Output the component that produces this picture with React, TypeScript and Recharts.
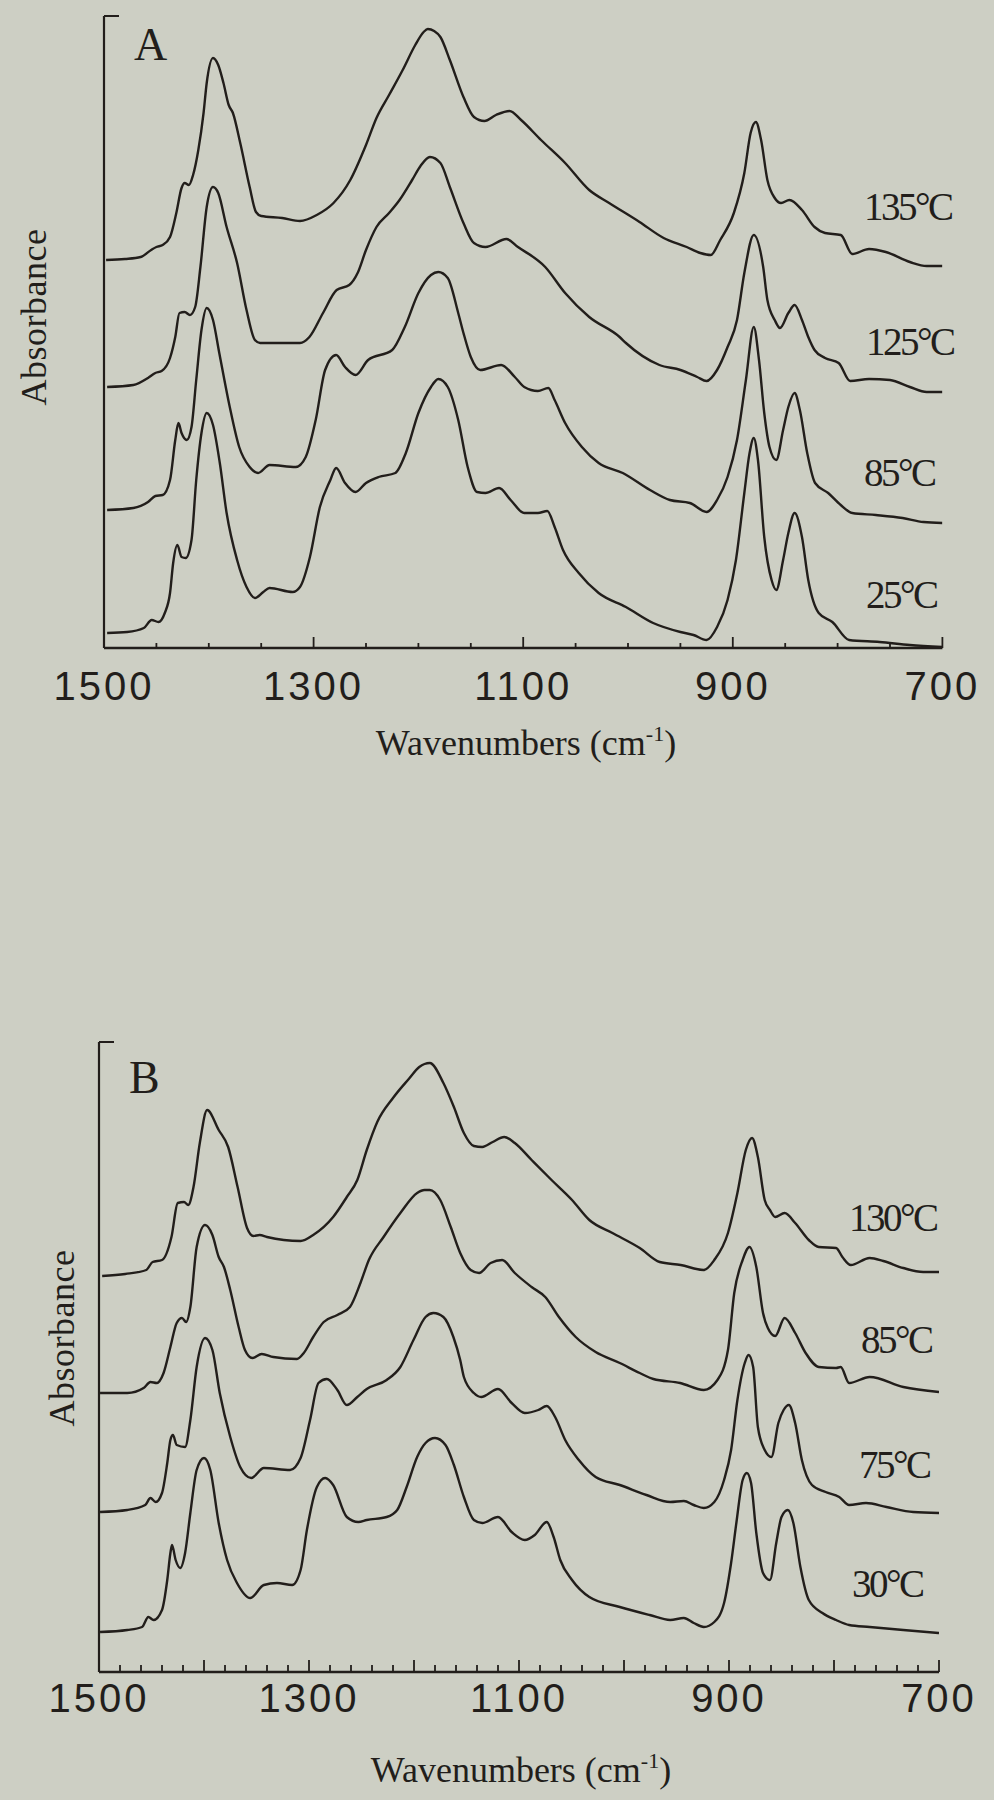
import React from 'react';
import { LineChart, Line, XAxis, YAxis, Customized } from 'recharts';

const INK = '#221e1b';
const PAPER = '#cdcfc4';
const SERIF = '"Liberation Serif", "Times New Roman", serif';
const SANS = '"Liberation Sans", Arial, sans-serif';

// wavenumber (cm-1), absorbance (offset, a.u.)
// Panel A
const a135: [number, number][] = [
  [1498, 3.88], [1480, 3.89], [1465, 3.91], [1455, 3.98], [1450, 4.01], [1444, 4.03], [1437, 4.11],
  [1431, 4.35], [1426, 4.6], [1423, 4.65], [1419, 4.63], [1415, 4.73], [1410, 4.98], [1405, 5.35],
  [1402, 5.65], [1396, 5.9], [1391, 5.83], [1386, 5.65], [1381, 5.43], [1377, 5.35], [1370, 5.05],
  [1361, 4.61], [1355, 4.36], [1350, 4.32], [1330, 4.3], [1313, 4.27], [1297, 4.33], [1281, 4.45],
  [1265, 4.68], [1250, 5.03], [1240, 5.3], [1228, 5.53], [1215, 5.78], [1203, 6.03], [1195, 6.16],
  [1191, 6.19], [1185, 6.17], [1179, 6.11], [1170, 5.88], [1157, 5.51], [1147, 5.31], [1137, 5.27],
  [1126, 5.33], [1113, 5.37], [1102, 5.28], [1083, 5.08], [1060, 4.85], [1037, 4.58], [1018, 4.45],
  [989, 4.26], [966, 4.1], [944, 4.01], [931, 3.95], [921, 3.93], [912, 4.08], [899, 4.35],
  [889, 4.75], [883, 5.15], [878, 5.26], [873, 5.08], [867, 4.68], [860, 4.5], [854, 4.45],
  [846, 4.48], [834, 4.38], [822, 4.21], [812, 4.15], [797, 4.13], [786, 3.94], [770, 3.99],
  [754, 3.96], [731, 3.86], [715, 3.82], [700, 3.82],
];
const a125: [number, number][] = [
  [1497, 2.61], [1472, 2.63], [1458, 2.7], [1451, 2.75], [1445, 2.77], [1437, 2.9], [1432, 3.11],
  [1428, 3.35], [1423, 3.36], [1418, 3.33], [1413, 3.41], [1408, 3.81], [1402, 4.41], [1396, 4.61],
  [1391, 4.55], [1383, 4.21], [1373, 3.85], [1364, 3.38], [1356, 3.08], [1351, 3.05], [1313, 3.05],
  [1304, 3.11], [1291, 3.35], [1278, 3.58], [1266, 3.63], [1258, 3.75], [1250, 3.98], [1240, 4.21],
  [1228, 4.35], [1218, 4.48], [1206, 4.68], [1198, 4.82], [1189, 4.91], [1179, 4.85], [1170, 4.61],
  [1157, 4.25], [1147, 4.05], [1136, 4.01], [1116, 4.09], [1105, 4.01], [1079, 3.81], [1060, 3.55],
  [1037, 3.31], [1008, 3.11], [1002, 3.05], [970, 2.83], [950, 2.78], [934, 2.71], [925, 2.67],
  [915, 2.78], [905, 3.01], [896, 3.28], [889, 3.75], [880, 4.13], [871, 3.81], [867, 3.48],
  [860, 3.28], [855, 3.2], [847, 3.35], [841, 3.43], [834, 3.28], [828, 3.11], [822, 2.98],
  [812, 2.9], [799, 2.85], [788, 2.67], [770, 2.69], [750, 2.68], [731, 2.61], [715, 2.56], [700, 2.56],
];
const a85: [number, number][] = [
  [1497, 1.38], [1472, 1.4], [1458, 1.46], [1451, 1.52], [1444, 1.53], [1437, 1.68], [1432, 2.08],
  [1429, 2.25], [1426, 2.15], [1421, 2.08], [1416.5, 2.21], [1412, 2.68], [1407, 3.18], [1402, 3.4],
  [1396, 3.28], [1390, 2.95], [1380, 2.41], [1371, 2.01], [1361, 1.81], [1353, 1.75], [1342, 1.83],
  [1317, 1.81], [1307.5, 1.91], [1298, 2.28], [1289, 2.78], [1278.5, 2.93], [1270, 2.81], [1260, 2.73],
  [1248, 2.88], [1225, 2.98], [1213, 3.21], [1200, 3.55], [1188, 3.73], [1181, 3.76], [1172, 3.7],
  [1162, 3.35], [1157, 3.15], [1150, 2.91], [1141, 2.78], [1121, 2.83], [1108, 2.71], [1099, 2.61],
  [1086, 2.57], [1076, 2.6], [1070, 2.48], [1060, 2.25], [1044, 2.01], [1028, 1.85], [1005, 1.75],
  [979, 1.58], [960, 1.48], [941, 1.45], [925, 1.36], [915, 1.48], [905, 1.71], [896, 2.08],
  [887.5, 2.68], [880, 3.21], [875, 2.88], [870, 2.35], [865, 2.01], [858.5, 1.88], [852, 2.18],
  [847, 2.41], [841, 2.55], [836, 2.38], [829, 1.95], [821.5, 1.65], [809, 1.55], [797, 1.43],
  [786, 1.35], [763.5, 1.33], [738, 1.3], [718, 1.26], [700, 1.25],
];
const a25: [number, number][] = [
  [1497, 0.15], [1478, 0.16], [1462, 0.2], [1454.5, 0.28], [1448, 0.26], [1442, 0.35], [1437, 0.55],
  [1434, 0.85], [1430, 1.03], [1426, 0.91], [1422, 0.9], [1416.5, 1.08], [1412, 1.68], [1407, 2.15],
  [1402, 2.35], [1396, 2.23], [1389.5, 1.85], [1383, 1.35], [1373, 0.88], [1364, 0.61], [1356, 0.5],
  [1348, 0.56], [1342, 0.6], [1320, 0.56], [1313, 0.61], [1303.5, 0.91], [1294, 1.41], [1284, 1.68],
  [1278.5, 1.8], [1270, 1.65], [1260, 1.56], [1250, 1.65], [1238, 1.71], [1222, 1.75], [1212, 1.95],
  [1200, 2.35], [1188, 2.61], [1181, 2.69], [1172, 2.61], [1162, 2.28], [1153, 1.81], [1144, 1.56],
  [1136, 1.55], [1123, 1.6], [1112, 1.48], [1099, 1.35], [1086, 1.35], [1077, 1.37], [1070, 1.21],
  [1062, 0.98], [1047, 0.75], [1028, 0.55], [1002, 0.41], [976, 0.25], [950, 0.16], [937.5, 0.13],
  [925, 0.08], [915, 0.21], [905, 0.48], [897, 0.88], [889, 1.55], [884, 1.95], [880, 2.1],
  [876, 1.88], [870, 1.11], [863, 0.68], [858.5, 0.58], [852, 0.88], [847, 1.15], [841, 1.35],
  [834, 1.11], [828, 0.68], [818, 0.35], [805, 0.26], [789, 0.08], [760, 0.06], [731, 0.03], [700, 0.01],
];

// Panel B
const b130: [number, number][] = [
  [1497, 3.96], [1475, 3.98], [1455, 4.02], [1449, 4.1], [1440, 4.12], [1431, 4.35], [1425, 4.69],
  [1419, 4.7], [1415, 4.67], [1410, 4.85], [1404, 5.29], [1397, 5.62], [1386, 5.42], [1377, 5.25],
  [1368, 4.85], [1359, 4.44], [1353, 4.36], [1347, 4.37], [1340, 4.35], [1308, 4.31], [1296, 4.37],
  [1277, 4.55], [1264, 4.75], [1254, 4.92], [1245, 5.22], [1235, 5.5], [1220, 5.74], [1205, 5.93],
  [1195, 6.05], [1190, 6.08], [1185, 6.09], [1172, 5.89], [1162, 5.65], [1152.5, 5.39], [1143, 5.26],
  [1135, 5.25], [1125, 5.3], [1114, 5.35], [1104, 5.29], [1088, 5.12], [1069, 4.92], [1049.5, 4.72],
  [1033, 4.52], [1011, 4.39], [985, 4.24], [966, 4.1], [946, 4.07], [924, 4.02], [914, 4.12],
  [901, 4.39], [892, 4.79], [884, 5.22], [878, 5.34], [872.5, 5.15], [866, 4.72], [861, 4.62],
  [856, 4.55], [847, 4.59], [837, 4.49], [824, 4.32], [814.5, 4.25], [798, 4.24], [792, 4.15],
  [784, 4.07], [766, 4.14], [753, 4.11], [734, 4.04], [715, 4.0], [700, 4.0],
];
const b85: [number, number][] = [
  [1499, 2.79], [1473, 2.79], [1457.5, 2.84], [1451, 2.9], [1445, 2.89], [1438.5, 2.99], [1432, 3.25],
  [1426, 3.49], [1421, 3.54], [1417, 3.5], [1413, 3.65], [1407, 4.25], [1399, 4.47], [1392, 4.37],
  [1386, 4.15], [1381, 4.05], [1375, 3.82], [1367, 3.45], [1361, 3.22], [1354, 3.14], [1345, 3.18],
  [1334, 3.15], [1311.5, 3.13], [1305, 3.19], [1296, 3.35], [1286, 3.5], [1273, 3.57], [1261, 3.65],
  [1251, 3.89], [1243, 4.12], [1229, 4.35], [1213, 4.59], [1197, 4.79], [1190, 4.82], [1185, 4.82],
  [1175, 4.72], [1165, 4.45], [1156, 4.19], [1146, 4.02], [1138, 3.99], [1127, 4.09], [1116, 4.12],
  [1104, 3.99], [1088, 3.85], [1075, 3.75], [1062, 3.55], [1046, 3.35], [1027, 3.2], [1004, 3.09],
  [985, 2.99], [972, 2.93], [946.5, 2.89], [924, 2.82], [911, 2.92], [901, 3.22], [895, 3.79],
  [887, 4.12], [880.5, 4.25], [874, 4.05], [867.6, 3.59], [863, 3.44], [856, 3.36], [847, 3.54],
  [837, 3.39], [827, 3.19], [814.5, 3.05], [798, 3.04], [793.6, 3.05], [785.6, 2.89], [766, 2.95],
  [734, 2.85], [700, 2.8],
];
const b75: [number, number][] = [
  [1499, 1.6], [1473, 1.62], [1456, 1.67], [1451, 1.74], [1446, 1.7], [1440, 1.79], [1435, 2.09],
  [1432, 2.32], [1429.6, 2.37], [1426, 2.27], [1418, 2.25], [1413, 2.52], [1407, 3.05], [1399, 3.34],
  [1392, 3.22], [1385, 2.79], [1375, 2.35], [1365.5, 2.05], [1355, 1.94], [1343, 2.04], [1318, 2.02],
  [1308, 2.14], [1299, 2.52], [1291, 2.89], [1283, 2.93], [1273, 2.82], [1264, 2.67], [1254, 2.75],
  [1245, 2.83], [1226, 2.92], [1213, 3.05], [1200.5, 3.32], [1189, 3.55], [1181.5, 3.59], [1172, 3.55],
  [1162.5, 3.35], [1156, 3.12], [1152.5, 2.95], [1143, 2.79], [1136, 2.75], [1120, 2.83], [1107, 2.69],
  [1094.5, 2.59], [1081.6, 2.62], [1073.6, 2.66], [1065.6, 2.55], [1056, 2.32], [1043, 2.12],
  [1027, 1.95], [1004, 1.87], [978.6, 1.77], [956, 1.7], [943, 1.71], [933.6, 1.67], [924, 1.64],
  [914, 1.7], [904.7, 1.92], [898, 2.22], [892, 2.72], [885, 3.09], [881.4, 3.17], [877, 3.05],
  [872.5, 2.45], [866, 2.22], [859.6, 2.15], [853, 2.49], [848, 2.62], [843, 2.67], [837, 2.49],
  [830.6, 2.12], [821, 1.87], [808, 1.8], [795, 1.75], [785.6, 1.67], [769.5, 1.69], [750, 1.65],
  [724.5, 1.6], [700, 1.59],
];
const b30: [number, number][] = [
  [1499, 0.4], [1473, 0.42], [1459, 0.45], [1453, 0.55], [1448, 0.52], [1440, 0.62], [1435, 0.92],
  [1432, 1.19], [1430.5, 1.27], [1427, 1.12], [1422.6, 1.04], [1418, 1.19], [1413, 1.59], [1407, 2.02],
  [1400, 2.14], [1394, 2.02], [1386, 1.49], [1378, 1.12], [1368.6, 0.89], [1356, 0.74], [1343, 0.87],
  [1330.5, 0.89], [1316, 0.87], [1308, 1.02], [1302, 1.42], [1292.5, 1.85], [1284.6, 1.94], [1277, 1.87],
  [1264, 1.55], [1253, 1.5], [1245, 1.52], [1226, 1.55], [1216, 1.62], [1207, 1.85], [1197, 2.15],
  [1189, 2.29], [1180, 2.34], [1170, 2.27], [1162, 2.07], [1152.5, 1.75], [1143, 1.52], [1135, 1.49],
  [1120, 1.55], [1107, 1.4], [1094.5, 1.32], [1085, 1.37], [1073.6, 1.5], [1067, 1.35], [1060.7, 1.12],
  [1049.5, 0.92], [1033, 0.75], [1004, 0.65], [975.5, 0.57], [956, 0.52], [943, 0.54], [933.6, 0.49],
  [924, 0.45], [914, 0.5], [904.7, 0.69], [898, 1.09], [893, 1.49], [887, 1.92], [883, 1.99],
  [879, 1.89], [874, 1.39], [867.6, 0.99], [861, 0.92], [855, 1.29], [850, 1.55], [844, 1.62],
  [838.7, 1.49], [832, 1.05], [824, 0.72], [811, 0.59], [798, 0.52], [785.6, 0.47], [766, 0.45],
  [734, 0.42], [700, 0.39],
];

const seriesA = [
  { name: '135°C', pts: a135 },
  { name: '125°C', pts: a125 },
  { name: '85°C', pts: a85 },
  { name: '25°C', pts: a25 },
];
const seriesB = [
  { name: '130°C', pts: b130 },
  { name: '85°C', pts: b85 },
  { name: '75°C', pts: b75 },
  { name: '30°C', pts: b30 },
];

const ticksA = [1450, 1400, 1350, 1300, 1250, 1200, 1150, 1100, 1050, 1000, 950, 900, 850, 800, 750, 700];
const ticksB = [
  1480, 1460, 1440, 1420, 1400, 1380, 1360, 1340, 1320, 1300, 1280, 1260, 1240, 1220, 1200, 1180,
  1160, 1140, 1120, 1100, 1080, 1060, 1040, 1020, 1000, 980, 960, 940, 920, 900, 880, 860, 840, 820,
  800, 780, 760, 740, 720, 700,
];
const majorA = [1300, 1100, 900, 700];
const majorB = [1400, 1300, 1200, 1100, 1000, 900, 800, 700];
const tickLabels = [1500, 1300, 1100, 900, 700];

// label placement in chart pixel coords
const labelPosA = [
  [864, 220], [866, 355], [864, 486], [866, 608],
];
const labelPosB = [
  [849, 231], [861, 353], [859, 478], [852, 597],
];

const toRows = (pts: [number, number][]) => pts.map(([wn, a]) => ({ wn, a }));

const makeXTick = (majors: number[], minorLen: number, majorLen: number, labelDy: number) =>
  (props: any) => {
    const { x, y, payload } = props;
    const v = payload.value;
    const len = majors.includes(v) ? majorLen : minorLen;
    return (
      <g>
        <line x1={x} x2={x} y1={y} y2={y - len} stroke={INK} strokeWidth={1.8} />
        {tickLabels.includes(v) && (
          <text x={x} y={y + labelDy} textAnchor="middle" fontFamily={SANS} fontSize={40}
            letterSpacing={3} fill={INK}>
            {v}
          </text>
        )}
      </g>
    );
  };

const TopTick = (props: any) => {
  const { x, y } = props;
  return <line x1={x} x2={x + 15} y1={y} y2={y} stroke={INK} strokeWidth={2} />;
};

type PanelProps = {
  letter: string;
  series: { name: string; pts: [number, number][] }[];
  labelPos: number[][];
  ticks: number[];
  majors: number[];
  minorLen: number;
  majorLen: number;
  labelDy: number;
  margin: { top: number; right: number; bottom: number; left: number };
  yMax: number;
  letterY: number;
  absX: number;
  absY: number;
  wavY: number;
  wavX: number;
};

function Panel(p: PanelProps) {
  // axes take 1px each; the plot edge sits at margin + 1
  const plotLeft = p.margin.left + 1;
  const axisY = 800 - p.margin.bottom - 1;
  const Texts = () => (
    <g fill={INK} fontFamily={SERIF}>
      <text x={plotLeft + 30} y={p.letterY} fontSize={46}>{p.letter}</text>
      {p.series.map((s, i) => (
        <text key={s.name} x={p.labelPos[i][0]} y={p.labelPos[i][1]} fontSize={39} letterSpacing={-2.5}>
          {s.name}
        </text>
      ))}
      <text x={p.absX} y={p.absY} fontSize={36} letterSpacing={0.5} textAnchor="middle"
        transform={`rotate(-90 ${p.absX} ${p.absY})`}>
        Absorbance
      </text>
      <text x={p.wavX} y={p.wavY} fontSize={36} textAnchor="middle">
        Wavenumbers (cm
        <tspan fontSize={22} dy={-14}>-1</tspan>
        <tspan dy={14}>)</tspan>
      </text>
      <text x={plotLeft} y={axisY + p.labelDy} textAnchor="middle" fontFamily={SANS} fontSize={40}
        letterSpacing={3}>
        1500
      </text>
    </g>
  );
  return (
    <LineChart width={994} height={800} margin={p.margin}>
      <XAxis
        type="number"
        dataKey="wn"
        domain={[700, 1500]}
        reversed
        ticks={p.ticks}
        interval={0}
        height={1}
        tickSize={0}
        tickMargin={0}
        tickLine={false}
        axisLine={{ stroke: INK, strokeWidth: 2.6 }}
        tick={makeXTick(p.majors, p.minorLen, p.majorLen, p.labelDy)}
        allowDataOverflow
      />
      <YAxis
        type="number"
        domain={[0, p.yMax]}
        width={1}
        ticks={[p.yMax]}
        interval={0}
        tickSize={0}
        tickMargin={0}
        tickLine={false}
        axisLine={{ stroke: INK, strokeWidth: 2.2 }}
        tick={<TopTick />}
        allowDataOverflow
      />
      {p.series.map((s) => (
        <Line
          key={s.name}
          data={toRows(s.pts)}
          dataKey="a"
          type="monotone"
          dot={false}
          stroke={INK}
          strokeWidth={2.4}
          isAnimationActive={false}
        />
      ))}
      <Customized component={Texts} />
    </LineChart>
  );
}

export default function App() {
  return (
    <div style={{ position: 'absolute', left: 0, top: 0, width: 994, height: 1800, background: PAPER, overflow: 'hidden' }}>
      <div style={{ position: 'absolute', left: 0, top: 0 }}>
        <Panel
          letter="A"
          series={seriesA}
          labelPos={labelPosA}
          ticks={ticksA}
          majors={majorA}
          minorLen={5}
          majorLen={11}
          labelDy={52}
          margin={{ top: 16, right: 51.6, bottom: 151, left: 103 }}
          yMax={6.32}
          letterY={60}
          absX={46}
          absY={317}
          wavX={526}
          wavY={755}
        />
      </div>
      <div style={{ position: 'absolute', left: 0, top: 1000 }}>
        <Panel
          letter="B"
          series={seriesB}
          labelPos={labelPosB}
          ticks={ticksB}
          majors={majorB}
          minorLen={7}
          majorLen={12}
          labelDy={40}
          margin={{ top: 42, right: 55, bottom: 127, left: 98 }}
          yMax={6.3}
          letterY={93}
          absX={74}
          absY={338}
          wavX={521}
          wavY={782}
        />
      </div>
    </div>
  );
}
